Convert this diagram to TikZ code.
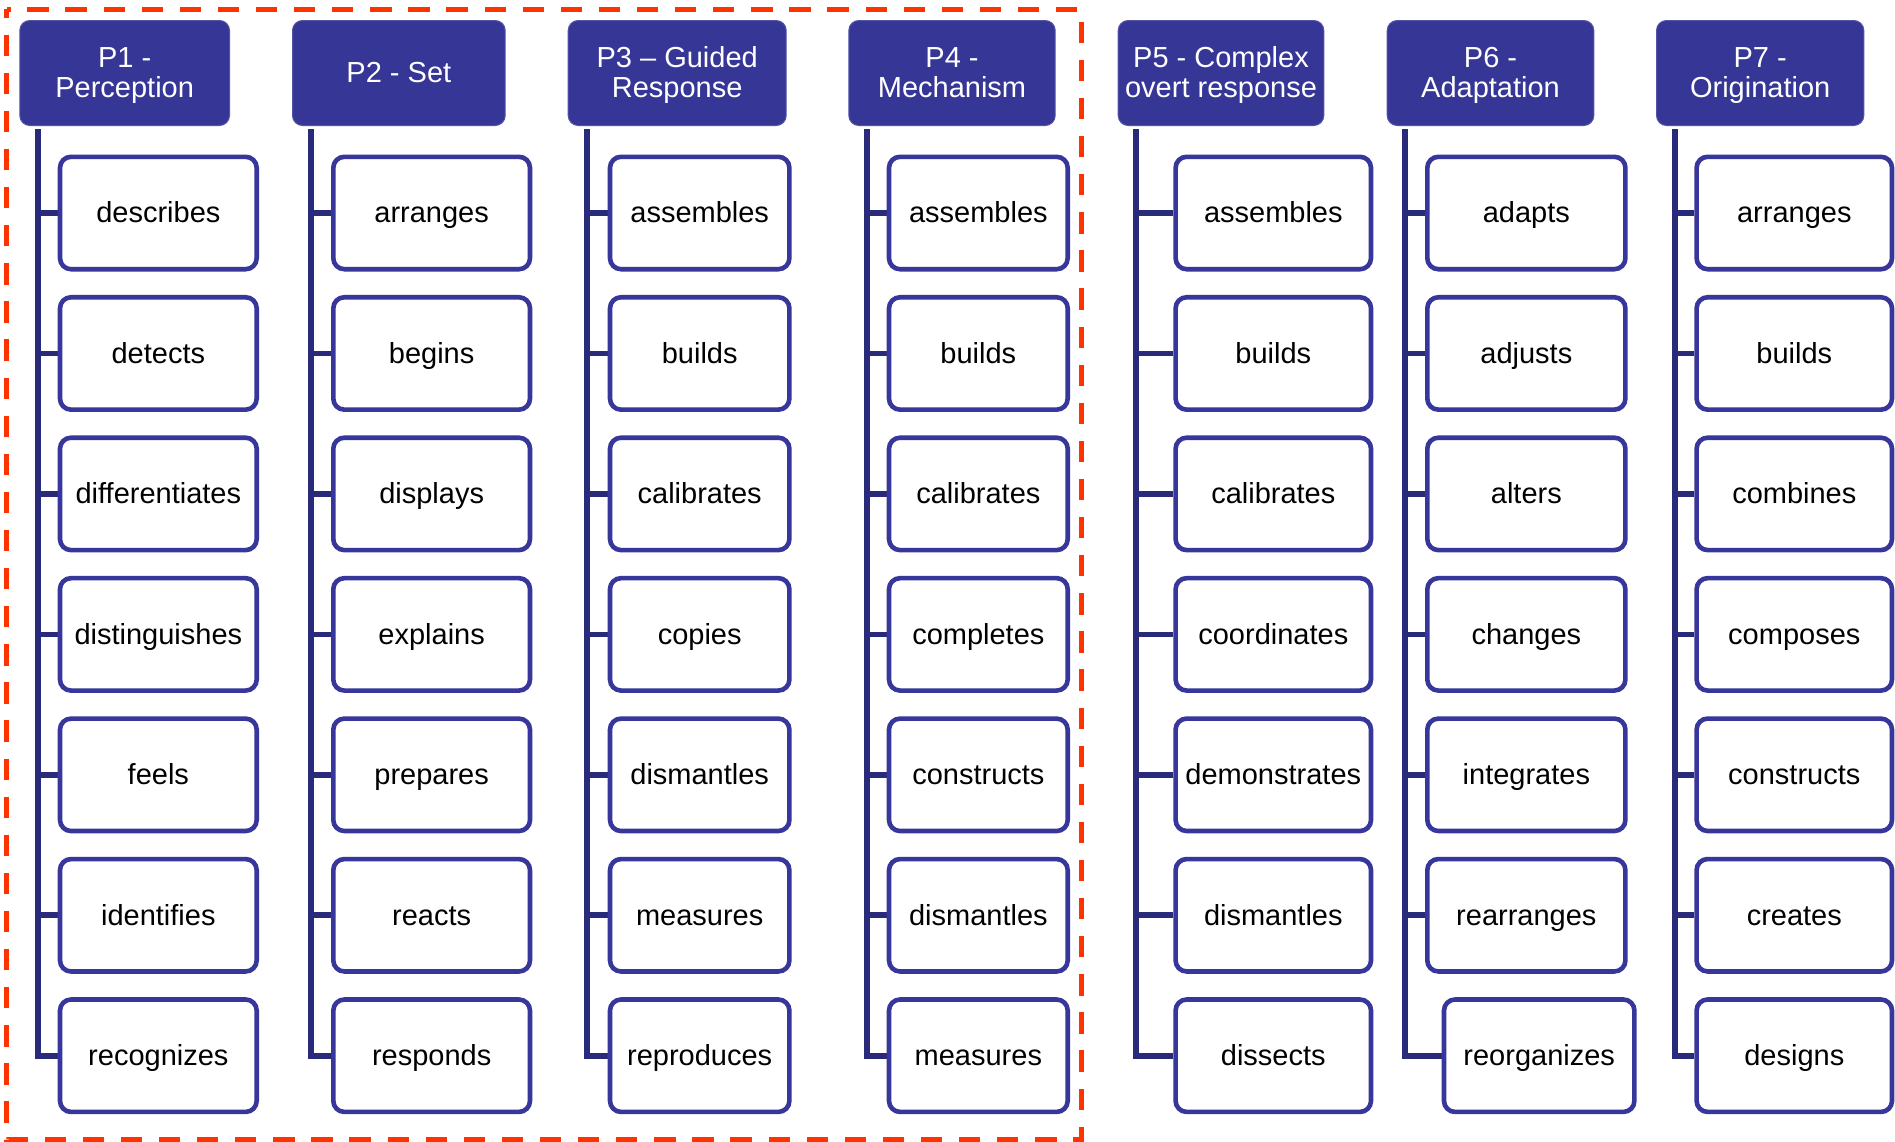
\documentclass[tikz,border=0pt]{standalone}
\usepackage{fontspec}
\setmainfont{Liberation Sans}
\usetikzlibrary{backgrounds}

\definecolor{hdrblue}{RGB}{54,54,151}
\definecolor{leafblue}{RGB}{55,55,155}
\definecolor{trunknavy}{RGB}{42,42,122}
\definecolor{dashred}{RGB}{255,51,0}

% invisible strut giving every text line the same height and depth
\newcommand{\lnstrut}{\rule[-6.1pt]{0pt}{32pt}}
% header font: fixed 30pt baseline distance whatever the struts
\newcommand{\hdrfont}{\fontsize{29}{30}\selectfont\lineskiplimit=-40pt\relax}

% one column of leaf boxes: id, centre x, box width, list of words
\newcommand{\leafcol}[4]{%
  \foreach \w [count=\i] in {#4} {
    \node[leaf, minimum width=#3] (c#1-\i) at (#2, {213+140.45*(\i-1)}) {\w};
  }}

\begin{document}
\begin{tikzpicture}[x=1pt, y=-1pt,
  hdr/.style={rectangle, rounded corners=10pt, fill=hdrblue,
    draw=hdrblue!85!white, line width=1pt, inner sep=0pt, text=white,
    align=center, font=\hdrfont, minimum height=105pt},
  leaf/.style={rectangle, rounded corners=11pt, fill=white, draw=leafblue,
    line width=4.6pt, inner sep=0pt, text=black,
    font=\fontsize{29}{30}\selectfont, text height=24.8pt, text depth=5pt,
    minimum height=112.4pt},
  trunk/.style={draw=trunknavy, line width=5.6pt},
  dashbox/.style={draw=dashred, line width=5pt,
    dash pattern=on 21.3pt off 16.8pt, dash phase=12.8pt}]

\useasboundingbox (0,0) rectangle (1895,1141);

% column headers
\node[hdr, minimum width=209.7pt] (h1) at (124.65,73)  {P1 -\lnstrut\\Perception\lnstrut};
\node[hdr, minimum width=212.7pt] (h2) at (398.85,73)  {P2 - Set\lnstrut};
\node[hdr, minimum width=218pt]   (h3) at (677.2,73)   {P3 – Guided\lnstrut\\Response\lnstrut};
\node[hdr, minimum width=206.4pt] (h4) at (952,73)     {P4 -\lnstrut\\Mechanism\lnstrut};
\node[hdr, minimum width=205.6pt] (h5) at (1221,73)    {P5 - Complex\lnstrut\\overt response\lnstrut};
\node[hdr, minimum width=206.6pt] (h6) at (1490.5,73)  {P6 -\lnstrut\\Adaptation\lnstrut};
\node[hdr, minimum width=207.3pt] (h7) at (1760.15,73) {P7 -\lnstrut\\Origination\lnstrut};

% tops of the vertical trunks
\coordinate (t1) at (37.7,129);
\coordinate (t2) at (311,129);
\coordinate (t3) at (587,129);
\coordinate (t4) at (866.7,129);
\coordinate (t5) at (1136,129);
\coordinate (t6) at (1405,129);
\coordinate (t7) at (1674.7,129);

% leaf boxes
\leafcol{1}{158.35}{196.7pt}{describes,detects,differentiates,distinguishes,feels,identifies,recognizes}
\leafcol{2}{431.65}{196.7pt}{arranges,begins,displays,explains,prepares,reacts,responds}
\leafcol{3}{699.7}{179.4pt}{assembles,builds,calibrates,copies,dismantles,measures,reproduces}
\leafcol{4}{978.35}{178.7pt}{assembles,builds,calibrates,completes,constructs,dismantles,measures}
\leafcol{5}{1273.3}{195.4pt}{assembles,builds,calibrates,coordinates,demonstrates,dismantles,dissects}
\leafcol{6}{1526.35}{198.1pt}{adapts,adjusts,alters,changes,integrates,rearranges}
\node[leaf, minimum width=190.4pt] (c6-7) at (1539.2, {213+140.45*6}) {reorganizes};
\leafcol{7}{1794.3}{195.4pt}{arranges,builds,combines,composes,constructs,creates,designs}

% trunks and branches, behind the boxes
\begin{scope}[on background layer]
  \fill[white] (0,0) rectangle (1895,1141);
  \foreach \k in {1,...,7} {
    \draw[trunk] (t\k) |- (c\k-7.west);
    \foreach \i in {1,...,6}
      \draw[trunk] (c\k-\i.west) -- (c\k-\i.west -| t\k);
  }
\end{scope}

% dashed frame round the first four columns
\draw[dashbox] (6.5,9.3) rectangle (1081.7,1139.5);

\end{tikzpicture}
\end{document}
